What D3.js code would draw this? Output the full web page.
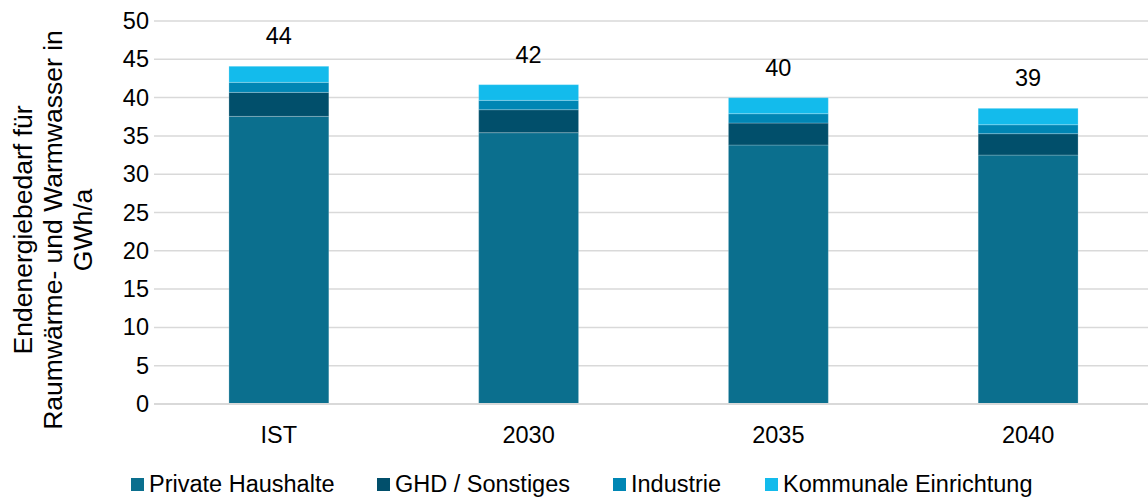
<!DOCTYPE html>
<html>
<head>
<meta charset="utf-8">
<script src="https://cdn.jsdelivr.net/npm/d3@7"></script>
<style>
  html, body { margin: 0; padding: 0; background: #fff; }
  svg { display: block; font-family: "Liberation Sans", Arial, sans-serif; }
</style>
</head>
<body>
<svg id="chart" width="1148" height="497"></svg>
<script>
// Endenergiebedarf nach Sektor (GWh/a)
const categories = ["IST", "2030", "2035", "2040"];
const seriesNames = ["Private Haushalte", "GHD / Sonstiges", "Industrie", "Kommunale Einrichtung"];
const privateHaushalte = [37.55, 35.42, 33.81, 32.50];
const ghdSonstiges = [3.13, 3.00, 2.87, 2.79];
const industrie = [1.31, 1.22, 1.22, 1.17];
const kommunaleEinrichtung = [2.10, 2.05, 2.09, 2.14];
const yTicks = [0, 5, 10, 15, 20, 25, 30, 35, 40, 45, 50];
const yTitleLines = ["Endenergiebedarf für", "Raumwärme- und Warmwasser in", "GWh/a"];

const colors = ["#0b6f8e", "#014f6b", "#0086b4", "#13bbec"];

const rows = categories.map((c, i) => ({
  cat: c,
  "Private Haushalte": privateHaushalte[i],
  "GHD / Sonstiges": ghdSonstiges[i],
  "Industrie": industrie[i],
  "Kommunale Einrichtung": kommunaleEinrichtung[i]
}));

const svg = d3.select("#chart");
const plot = { left: 154, right: 1153, top: 21, bottom: 404 };

const x = d3.scaleBand().domain(categories).range([plot.left, plot.right])
  .paddingInner(0.6).paddingOuter(0.3);
const y = d3.scaleLinear().domain([0, 50]).range([plot.bottom, plot.top]);

// gridlines
svg.append("g").selectAll("line").data(yTicks.filter(t => t > 0)).join("line")
  .attr("x1", plot.left).attr("x2", 1148)
  .attr("y1", d => y(d)).attr("y2", d => y(d))
  .attr("stroke", "#d9d9d9").attr("stroke-width", 1.5);

// y axis labels
const yAxis = svg.append("g").attr("transform", `translate(${plot.left - 5},0)`)
  .call(d3.axisLeft(y).tickValues(yTicks).tickSize(0).tickPadding(0));
yAxis.select(".domain").remove();
yAxis.selectAll("text").attr("font-size", 23.5).attr("fill", "#000")
  .attr("font-family", "Liberation Sans, Arial, sans-serif");

// stacked bars
const stack = d3.stack().keys(seriesNames)(rows);
svg.append("g").selectAll("g").data(stack).join("g")
  .attr("fill", (d, i) => colors[i])
  .selectAll("rect").data(d => d).join("rect")
  .attr("x", d => x(d.data.cat))
  .attr("width", x.bandwidth())
  .attr("y", d => y(d[1]))
  .attr("height", d => y(d[0]) - y(d[1]))
  .attr("stroke", "rgba(255,255,255,0.22)").attr("stroke-width", 1);

// baseline
svg.append("line").attr("x1", plot.left).attr("x2", 1148)
  .attr("y1", y(0)).attr("y2", y(0))
  .attr("stroke", "#d9d9d9").attr("stroke-width", 2);

// total labels
svg.append("g").selectAll("text").data(rows).join("text")
  .attr("x", d => x(d.cat) + x.bandwidth() / 2)
  .attr("y", d => y(d3.sum(seriesNames, k => d[k])) - 22)
  .attr("text-anchor", "middle").attr("font-size", 23.5).attr("fill", "#000")
  .text(d => Math.round(d3.sum(seriesNames, k => d[k])));

// x axis labels
const xAxis = svg.append("g").attr("transform", `translate(0,${plot.bottom})`)
  .call(d3.axisBottom(x).tickSize(0).tickPadding(0));
xAxis.select(".domain").remove();
xAxis.selectAll("text").attr("font-size", 23.5).attr("fill", "#000")
  .attr("dy", null).attr("y", 39)
  .attr("font-family", "Liberation Sans, Arial, sans-serif");

// y axis title
const title = svg.append("text")
  .attr("transform", "translate(0,230) rotate(-90)")
  .attr("text-anchor", "middle").attr("font-size", 26.5).attr("fill", "#000");
title.selectAll("tspan").data(yTitleLines).join("tspan")
  .attr("x", 0).attr("y", (d, i) => 32 + i * 30)
  .text(d => d);

// legend
const legendX = [131, 377, 613, 765];
const legend = svg.append("g").selectAll("g").data(seriesNames).join("g")
  .attr("transform", (d, i) => `translate(${legendX[i]},478)`);
legend.append("rect").attr("width", 13).attr("height", 13)
  .attr("fill", (d, i) => colors[i]);
legend.append("text").attr("x", 18).attr("y", 14)
  .attr("font-size", 23.5).attr("fill", "#000").text(d => d);
</script>
</body>
</html>
